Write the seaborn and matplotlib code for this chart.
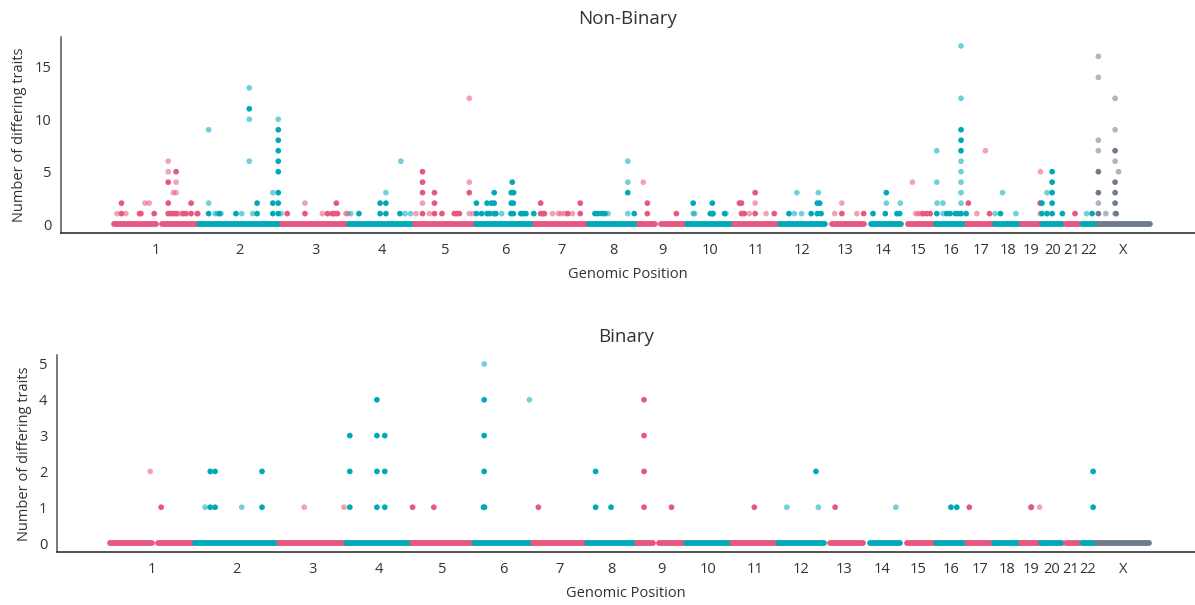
import numpy as np
import pandas as pd
import matplotlib
matplotlib.use("Agg")
import matplotlib.pyplot as plt
import seaborn as sns

# ---------------- genome layout (Mb) ----------------
chrom_names = [str(i) for i in range(1, 23)] + ["X"]
chrom_lengths = [249.3, 243.2, 198.0, 191.2, 180.9, 171.1, 159.1, 146.4, 141.2, 135.5,
                 135.0, 133.9, 115.2, 107.3, 102.5, 90.4, 81.2, 78.1, 59.1, 63.0,
                 48.1, 51.3, 155.3]

# covered regions (position 0 baseline of dense markers)
seg_chrom = ["1", "1", "2", "3", "4", "5", "6", "7", "8", "9", "9", "10", "11", "12",
             "13", "14", "15", "16", "17", "18", "19", "20", "21", "22", "X"]
seg_start = [1, 143, 1, 1, 1, 1, 1, 1, 1, 1, 66, 1, 1, 1,
             19, 20, 21, 1, 1, 1, 1, 1, 10, 8, 2]
seg_end = [124, 248, 242, 197, 190, 180, 170, 158, 145, 48, 140, 134, 134, 133,
           114, 106, 101, 89, 80, 77, 58, 62, 47, 50, 154]

# ---------------- Non-Binary markers ----------------
nb_chrom = (["1"] * 29 + ["2"] * 29 + ["3"] * 11 + ["4"] * 11 + ["5"] * 19 + ["6"] * 23 +
            ["7"] * 12 + ["8"] * 10 + ["9"] * 4 + ["10"] * 9 + ["11"] * 10 + ["12"] * 10 +
            ["13"] * 5 + ["14"] * 7 + ["15"] * 7 + ["16"] * 22 + ["17"] * 4 + ["18"] * 4 +
            ["19"] * 3 + ["20"] * 10 + ["21"] * 1 + ["22"] * 2 + ["X"] * 19)
nb_pos = [
    11, 24, 24, 37, 77, 81, 93, 105, 120, 161, 161, 161, 161, 161, 169, 176, 176, 184, 184, 184, 184, 190, 200, 205, 213, 228, 228, 246, 248,
    30, 30, 30, 49, 56, 62, 66, 110, 127, 149, 149, 149, 149, 159, 172, 172, 218, 218, 218, 234, 234, 234, 234, 234, 234, 234, 234, 234, 242,
    17, 69, 69, 120, 135, 149, 155, 161, 164, 189, 194,
    5, 29, 91, 91, 108, 108, 108, 149, 152, 164, 180,
    5, 24, 24, 24, 24, 24, 44, 59, 59, 59, 81, 117, 124, 132, 161, 161, 161, 161, 173,
    1, 1, 16, 32, 32, 40, 45, 53, 53, 53, 58, 75, 102, 103, 103, 106, 109, 109, 110, 131, 138, 146, 169,
    18, 18, 24, 29, 53, 70, 78, 88, 97, 111, 134, 134,
    18, 27, 38, 47, 56, 114, 114, 114, 114, 133,
    13, 25, 25, 110,
    18, 18, 22, 68, 74, 74, 76, 110, 114,
    18, 24, 24, 32, 47, 64, 64, 64, 96, 120,
    28, 44, 51, 65, 93, 111, 111, 114, 118, 122,
    28, 49, 49, 93, 113,
    25, 61, 64, 64, 95, 103, 105,
    33, 43, 50, 58, 64, 75, 85,
    2, 2, 2, 3, 20, 20, 31, 41, 56, 65, 73, 73, 73, 73, 73, 73, 73, 73, 73, 73, 73, 88,
    4, 29, 54, 66,
    1, 17, 23, 62,
    55, 55, 56,
    1, 1, 16, 16, 31, 31, 31, 31, 31, 61,
    35,
    21, 37,
    4, 4, 4, 4, 4, 4, 4, 4, 26, 53, 53, 53, 53, 53, 53, 53, 53, 56, 63,
]
nb_count = [
    1, 1, 2, 1, 1, 1, 2, 2, 1, 1, 2, 4, 5, 6, 1, 1, 3, 3, 4, 5, 1, 1, 1, 1, 1, 1, 2, 1, 1,
    1, 2, 9, 1, 1, 1, 1, 1, 1, 6, 10, 11, 13, 1, 1, 2, 1, 2, 3, 1, 2, 3, 5, 6, 7, 8, 9, 10, 1,
    1, 1, 2, 1, 1, 1, 1, 2, 1, 1, 1,
    1, 1, 1, 2, 1, 2, 3, 1, 6, 1, 1,
    1, 1, 2, 3, 4, 5, 1, 1, 2, 3, 1, 1, 1, 1, 1, 3, 4, 12, 1,
    1, 2, 1, 1, 2, 1, 2, 1, 2, 3, 1, 1, 1, 2, 3, 4, 1, 2, 3, 1, 1, 1, 1,
    1, 2, 1, 1, 1, 1, 1, 1, 1, 1, 1, 2,
    1, 1, 1, 1, 1, 1, 3, 4, 6, 1,
    4, 1, 2, 1,
    1, 2, 1, 1, 1, 2, 1, 1, 1,
    2, 1, 2, 1, 1, 1, 2, 3, 1, 1,
    1, 1, 3, 1, 1, 1, 2, 3, 2, 1,
    1, 1, 2, 1, 1,
    1, 1, 2, 3, 1, 1, 2,
    4, 1, 1, 1, 1, 1, 1,
    1, 4, 7, 2, 1, 2, 1, 1, 1, 1, 1, 2, 3, 4, 5, 6, 7, 8, 9, 12, 17, 1,
    2, 1, 7, 1,
    1, 1, 3, 1,
    1, 2, 5,
    1, 2, 1, 3, 1, 2, 3, 4, 5, 1,
    1,
    1, 1,
    1, 2, 3, 5, 7, 8, 14, 16, 1, 1, 2, 3, 4, 6, 7, 9, 12, 1, 5,
]
nb_faded = [
    1, 0, 0, 1, 0, 0, 1, 1, 0, 0, 0, 0, 1, 1, 0, 0, 1, 1, 1, 0, 0, 1, 1, 0, 0, 0, 0, 0, 1,
    0, 1, 1, 1, 1, 0, 1, 0, 1, 1, 1, 0, 1, 1, 0, 0, 0, 0, 1, 0, 0, 0, 0, 0, 0, 0, 0, 1, 1,
    0, 0, 1, 1, 0, 0, 0, 0, 0, 1, 1,
    1, 0, 0, 0, 0, 0, 1, 0, 1, 1, 1,
    1, 0, 1, 0, 0, 0, 1, 0, 0, 0, 0, 0, 0, 0, 1, 0, 1, 1, 1,
    0, 0, 0, 0, 0, 0, 0, 0, 0, 0, 0, 1, 0, 0, 0, 0, 0, 0, 0, 0, 0, 0, 0,
    0, 0, 0, 0, 1, 1, 1, 1, 0, 1, 0, 0,
    0, 0, 0, 0, 1, 1, 0, 1, 1, 0,
    1, 0, 0, 0,
    1, 0, 1, 0, 0, 0, 0, 0, 1,
    0, 0, 0, 0, 1, 0, 1, 0, 1, 0,
    0, 1, 1, 1, 0, 0, 0, 1, 0, 0,
    1, 0, 1, 1, 0,
    0, 0, 1, 0, 0, 0, 1,
    1, 1, 1, 1, 0, 0, 0,
    0, 1, 1, 1, 1, 1, 0, 0, 0, 0, 0, 1, 1, 1, 1, 1, 0, 0, 0, 1, 1, 0,
    0, 1, 1, 0,
    1, 0, 1, 1,
    1, 0, 1,
    0, 0, 0, 1, 0, 0, 0, 0, 0, 0,
    0,
    1, 0,
    0, 1, 0, 0, 1, 1, 1, 1, 1, 1, 0, 0, 0, 1, 0, 1, 1, 0, 1,
]

# ---------------- Binary markers ----------------
b_chrom = (["1"] * 2 + ["2"] * 8 + ["3"] * 2 + ["4"] * 10 + ["5"] * 2 + ["6"] * 7 +
           ["7"] * 1 + ["8"] * 3 + ["9"] * 5 + ["11"] * 1 + ["12"] * 3 + ["13"] * 1 +
           ["14"] * 1 + ["16"] * 2 + ["17"] * 1 + ["19"] * 3 + ["22"] * 2)
b_pos = [119, 151,
         30, 45, 45, 59, 59, 137, 196, 196,
         76, 192,
         11, 11, 11, 90, 90, 90, 90, 113, 113, 113,
         3, 65,
         29, 32, 31, 31, 31, 31, 163,
         18,
         26, 26, 71,
         21, 21, 21, 21, 101,
         66,
         26, 111, 118,
         33,
         95,
         46, 63,
         9,
         30, 31, 55,
         41, 41]
b_count = [2, 1,
           1, 1, 2, 1, 2, 1, 1, 2,
           1, 1,
           1, 2, 3, 1, 2, 3, 4, 1, 2, 3,
           1, 1,
           1, 1, 2, 3, 4, 5, 4,
           1,
           1, 2, 1,
           1, 2, 3, 4, 1,
           1,
           1, 2, 1,
           1,
           1,
           1, 1,
           1,
           1, 1, 1,
           1, 2]
b_faded = [1, 0,
           1, 0, 0, 0, 0, 1, 0, 0,
           1, 1,
           0, 0, 0, 0, 0, 0, 0, 0, 0, 0,
           0, 0,
           0, 0, 0, 0, 0, 1, 1,
           0,
           0, 0, 0,
           0, 0, 0, 0, 0,
           0,
           1, 0, 1,
           0,
           1,
           0, 0,
           0,
           0, 0, 1,
           0, 0]

# ---------------- style ----------------
PINK = "#E8577F"
TEAL = "#00A9B8"
GRAY = "#6E7B8C"
TEXT = "#333333"

sns.set_theme(style="white")
plt.rcParams["font.family"] = ["Open Sans", "DejaVu Sans"]
plt.rcParams["text.color"] = TEXT
plt.rcParams["axes.labelcolor"] = TEXT
plt.rcParams["xtick.color"] = TEXT
plt.rcParams["ytick.color"] = TEXT

palette = {}
for i, c in enumerate(chrom_names):
    palette[c] = GRAY if c == "X" else (PINK if i % 2 == 0 else TEAL)

starts = np.concatenate([[0.0], np.cumsum(chrom_lengths)[:-1]])
offsets = dict(zip(chrom_names, starts))
centers = starts + np.array(chrom_lengths) / 2.0

fig = plt.figure(figsize=(11.95, 6.05), dpi=100)
ax_top = fig.add_axes([61 / 1195, (605 - 233) / 605, 1134 / 1195, 196 / 605])
ax_bot = fig.add_axes([57 / 1195, (605 - 552) / 605, 1138 / 1195, 197 / 605])


def draw_panel(ax, chrom, pos, count, faded, title, ylim, yticks):
    for c, s, e in zip(seg_chrom, seg_start, seg_end):
        ax.plot([offsets[c] + s, offsets[c] + e], [0, 0], color=palette[c], lw=4.2,
                solid_capstyle="round", zorder=1)
    df = pd.DataFrame({"chrom": chrom, "pos": pos, "count": count, "faded": faded})
    df["gpos"] = df["chrom"].map(offsets) + df["pos"]
    sns.scatterplot(data=df[df["faded"] == 1], x="gpos", y="count", hue="chrom",
                    palette=palette, s=17, linewidth=0, alpha=0.55, legend=False,
                    ax=ax, zorder=2)
    sns.scatterplot(data=df[df["faded"] == 0], x="gpos", y="count", hue="chrom",
                    palette=palette, s=17, linewidth=0, alpha=1.0, legend=False,
                    ax=ax, zorder=3)
    ax.set_xlim(-153, 3168)
    ax.set_ylim(*ylim)
    ax.set_xticks(centers)
    ax.set_xticklabels(chrom_names)
    ax.set_yticks(yticks)
    ax.tick_params(axis="both", length=0, pad=7, labelsize=10.5)
    ax.set_xlabel("Genomic Position", fontsize=10.5, labelpad=7)
    ax.set_ylabel("Number of differing traits", fontsize=10.5, labelpad=5)
    ax.set_title(title, fontsize=13.5, color=TEXT, pad=9)
    sns.despine(ax=ax)
    ax.spines["left"].set_color("#555555")
    ax.spines["bottom"].set_color("#222222")
    ax.spines["left"].set_linewidth(1.1)
    ax.spines["bottom"].set_linewidth(1.1)


draw_panel(ax_top, nb_chrom, nb_pos, nb_count, nb_faded, "Non-Binary",
           (-0.85, 17.85), [0, 5, 10, 15])
draw_panel(ax_bot, b_chrom, b_pos, b_count, b_faded, "Binary",
           (-0.25, 5.25), [0, 1, 2, 3, 4, 5])

fig.savefig("out.png", dpi=100)
